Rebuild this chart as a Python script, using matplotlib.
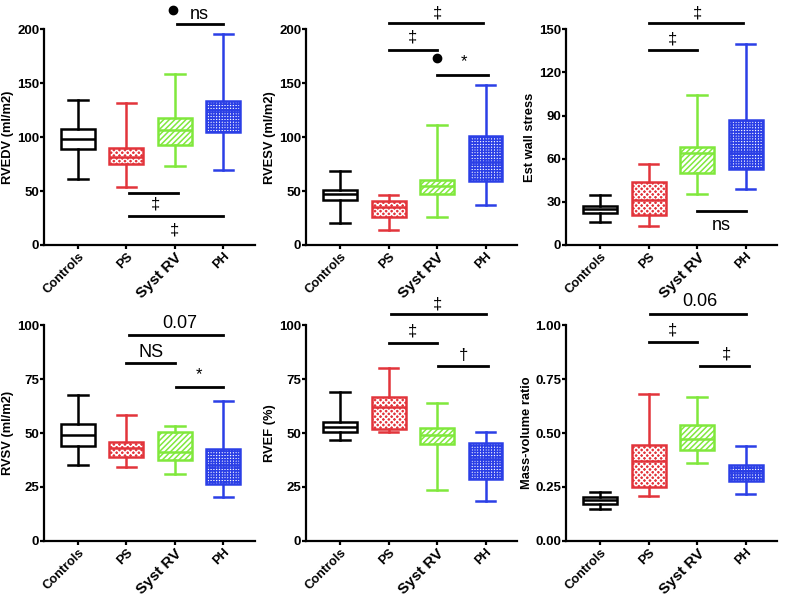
import matplotlib
matplotlib.use('Agg')
import matplotlib.pyplot as plt
from matplotlib.patches import PathPatch

plt.rcParams['font.family'] = ['Liberation Sans', 'DejaVu Sans']
plt.rcParams['hatch.linewidth'] = 1.1

groups = ['Controls', 'PS', 'Syst RV', 'PH']
colors = ['#000000', '#e2343b', '#80e83c', '#2b3fe6']
# face colour, hatch pattern, hatch colour
faces = ['white', '#e2343b', 'white', 'white']
hatches = [None, 'xxxxxx', '//////', '++++++']
hatch_cols = [None, 'white', '#80e83c', '#2b3fe6']

# box stats per group: whisker low, q1, median, q3, whisker high
rvedv = [[61, 89, 98, 108, 134.5], [54, 75, 82, 90, 132],
         [73, 93, 107, 118, 159], [69.5, 105, 125, 134, 196]]
rvesv = [[20.5, 41.5, 47, 51, 68.5], [14, 26, 35, 41, 46.5],
         [26, 47, 55, 60.5, 111.5], [37, 59, 77, 101.5, 148]]
wall = [[16, 22.5, 25, 27, 35], [13, 21, 31.5, 44, 56],
        [35.5, 50, 64, 68.5, 104.5], [39, 53, 64, 87, 140]]
rvsv = [[35, 44, 49, 54, 67.5], [34.5, 39, 43, 46, 58.5],
        [31, 37.5, 41, 50.5, 53.5], [20.5, 26.5, 35, 42.5, 65]]
rvef = [[47, 50.5, 53, 55, 69], [50.5, 52, 62, 66.5, 80],
        [23.5, 45, 49, 52.5, 64], [18.5, 28.5, 38, 45.5, 50.5]]
mvr = [[0.15, 0.172, 0.188, 0.205, 0.228], [0.21, 0.25, 0.37, 0.446, 0.68],
       [0.36, 0.423, 0.472, 0.536, 0.668], [0.218, 0.28, 0.325, 0.35, 0.438]]

ylabels = ['RVEDV (ml/m2)', 'RVESV (ml/m2)', 'Est wall stress',
           'RVSV (ml/m2)', 'RVEF (%)', 'Mass-volume ratio']
yticks = [[0, 50, 100, 150, 200], [0, 50, 100, 150, 200], [0, 30, 60, 90, 120, 150],
          [0, 25, 50, 75, 100], [0, 25, 50, 75, 100], [0, 0.25, 0.5, 0.75, 1.0]]
ytick_fmt = ['{:.0f}'] * 5 + ['{:.2f}']

# significance bars: (x1, x2, bar y, label, label x, label y)
sig1 = [(2.05, 3.0, 205, 'ns', 2.5, 214), (1.06, 2.06, 48, '‡', 1.6, 38),
        (1.06, 3.0, 26.5, '‡', 2.0, 14)]
sig2 = [(1.0, 2.95, 206, '‡', 2.0, 215), (1.0, 2.0, 181, '‡', 1.5, 193),
        (2.0, 3.05, 157.5, '*', 2.55, 170)]
sig3 = [(1.0, 2.95, 154.5, '‡', 2.0, 161.5), (1.0, 2.0, 135.5, '‡', 1.5, 143),
        (2.0, 3.0, 23.3, 'ns', 2.5, 13.5)]
sig4 = [(1.06, 3.0, 95.5, '0.07', 2.1, 101), (1.0, 2.0, 82.5, 'NS', 1.5, 87.5),
        (2.02, 3.0, 71.5, '*', 2.5, 77)]
sig5 = [(1.05, 3.0, 105, '‡', 2.0, 110), (1.0, 2.0, 92, '‡', 1.5, 97.5),
        (2.02, 3.05, 81, '†', 2.55, 86)]
sig6 = [(1.02, 3.0, 1.052, '0.06', 2.05, 1.11), (1.0, 2.0, 0.924, '‡', 1.5, 0.98),
        (2.05, 3.07, 0.813, '‡', 2.6, 0.865)]
dots1 = [(1.97, 217.5)]
dots2 = [(2.0, 173.5)]

panels = [(rvedv, sig1, dots1), (rvesv, sig2, dots2), (wall, sig3, []),
          (rvsv, sig4, []), (rvef, sig5, []), (mvr, sig6, [])]

fig = plt.figure(figsize=(7.93, 5.99), dpi=100)
lefts = [0.0555, 0.386, 0.714]
bottoms = [0.591, 0.097]

for i, (stats, sigs, dots) in enumerate(panels):
    ax = fig.add_axes([lefts[i % 3], bottoms[i // 3], 0.266, 0.36])
    bx = []
    for s in stats:
        bx.append(dict(whislo=s[0], q1=s[1], med=s[2], q3=s[3], whishi=s[4], fliers=[]))
    art = ax.bxp(bx, positions=range(4), widths=0.7, capwidths=0.4,
                 patch_artist=True, showfliers=False)
    for j in range(4):
        c = colors[j]
        b = art['boxes'][j]
        b.set_facecolor(faces[j])
        b.set_linewidth(0)
        if hatches[j]:
            b.set_edgecolor(hatch_cols[j])
            b.set_hatch(hatches[j])
        else:
            b.set_edgecolor(c)
        # outline drawn on top of the hatched box
        ax.add_patch(PathPatch(b.get_path(), fill=False, edgecolor=c, lw=1.8, zorder=2.5))
        art['medians'][j].set_color(c)
        art['medians'][j].set_linewidth(1.8)
        art['medians'][j].set_zorder(2.6)
        for k in (2 * j, 2 * j + 1):
            art['whiskers'][k].set_color(c)
            art['whiskers'][k].set_linewidth(1.8)
            art['caps'][k].set_color(c)
            art['caps'][k].set_linewidth(1.8)

    yt = yticks[i]
    ax.set_ylim(0, yt[-1])
    ax.set_yticks(yt)
    ax.set_yticklabels([ytick_fmt[i].format(v) for v in yt], fontsize=9.5, fontweight='bold')
    ax.set_xlim(-0.7, 3.65)
    ax.set_xticks(range(4))
    ax.set_xticklabels(groups, rotation=45, ha='right', rotation_mode='anchor',
                       fontweight='bold', fontsize=9.2)
    ax.get_xticklabels()[2].set_fontsize(11)
    ax.set_ylabel(ylabels[i], fontsize=9.3, fontweight='bold', labelpad=2)
    for side in ('top', 'right'):
        ax.spines[side].set_visible(False)
    for side in ('left', 'bottom'):
        ax.spines[side].set_linewidth(1.6)
    ax.tick_params(width=1.6, length=3)
    ax.tick_params(axis='y', pad=0.5)
    ax.tick_params(axis='x', pad=1)

    for x1, x2, y, lab, tx, ty in sigs:
        ax.plot([x1, x2], [y, y], color='black', lw=2, clip_on=False)
        fs = 13 if lab in ('ns', 'NS', '0.07', '0.06') else 12
        ax.text(tx, ty, lab, ha='center', va='center', fontsize=fs, clip_on=False)
    for x, y in dots:
        ax.plot(x, y, 'o', color='black', ms=6, clip_on=False)

fig.savefig('out.png', dpi=100)
